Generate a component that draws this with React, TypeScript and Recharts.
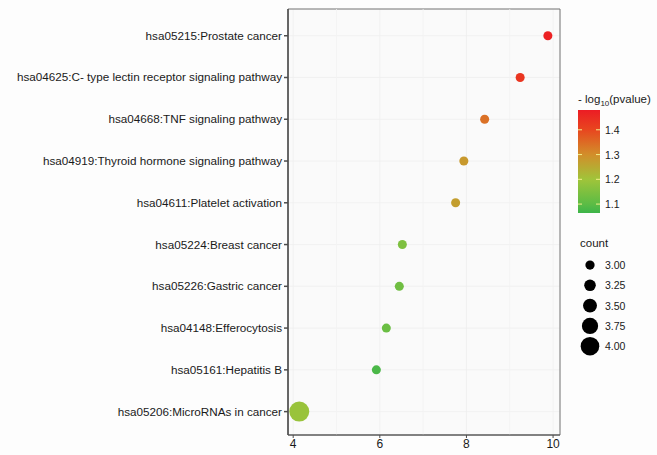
import {
  ScatterChart, Scatter, XAxis, YAxis, ZAxis, CartesianGrid, Cell, ReferenceLine, ReferenceArea,
} from "recharts";

const pathways = [
  "hsa05215:Prostate cancer",
  "hsa04625:C- type lectin receptor signaling pathway",
  "hsa04668:TNF signaling pathway",
  "hsa04919:Thyroid hormone signaling pathway",
  "hsa04611:Platelet activation",
  "hsa05224:Breast cancer",
  "hsa05226:Gastric cancer",
  "hsa04148:Efferocytosis",
  "hsa05161:Hepatitis B",
  "hsa05206:MicroRNAs in cancer",
];
const enrichment = [9.88, 9.24, 8.42, 7.94, 7.75, 6.52, 6.45, 6.15, 5.92, 4.14];
const logP = [1.47, 1.43, 1.34, 1.28, 1.27, 1.15, 1.13, 1.12, 1.08, 1.19];
const counts = [3, 3, 3, 3, 3, 3, 3, 3, 3, 4];

const xTicks = [4, 6, 8, 10];
const xMinor = [5, 7, 9];
const colorTicks = [1.1, 1.2, 1.3, 1.4];
const countTicks = [3.0, 3.25, 3.5, 3.75, 4.0];

const data = pathways.map((name, i) => ({
  name, y: i + 1, x: enrichment[i], p: logP[i], count: counts[i],
}));

const FONT = "'Liberation Sans', Arial, sans-serif";

// low -> green, high -> red
const stops = [
  { v: 1.064, c: [61, 181, 74] },
  { v: 1.1, c: [92, 188, 69] },
  { v: 1.2, c: [160, 196, 58] },
  { v: 1.3, c: [210, 142, 42] },
  { v: 1.4, c: [232, 70, 31] },
  { v: 1.48, c: [236, 28, 36] },
];
function pColor(v: number) {
  if (v <= stops[0].v) return `rgb(${stops[0].c.join(",")})`;
  for (let i = 1; i < stops.length; i++) {
    if (v <= stops[i].v) {
      const a = stops[i - 1], b = stops[i];
      const t = (v - a.v) / (b.v - a.v);
      const c = a.c.map((k, j) => Math.round(k + (b.c[j] - k) * t));
      return `rgb(${c.join(",")})`;
    }
  }
  return `rgb(${stops[stops.length - 1].c.join(",")})`;
}

const cbTop = 110, cbBottom = 213, cbMin = 1.064, cbMax = 1.48;
const cbY = (v: number) => cbBottom - ((v - cbMin) / (cbMax - cbMin)) * (cbBottom - cbTop);
const sizeR = (c: number) => 4.5 + (c - 3) * 5.5;

function YTick(props: any) {
  const { x, y, payload } = props;
  return (
    <text x={x} y={y} dy={4} textAnchor="end" fontSize={11.7} fill="#1a1a1a" fontFamily={FONT}>
      {pathways[payload.value - 1] ?? ""}
    </text>
  );
}

function Legends() {
  return (
    <svg width={657} height={455} style={{ position: "absolute", left: 0, top: 0, pointerEvents: "none" }}
      fontFamily={FONT}>
      <defs>
        <linearGradient id="pg" x1="0" y1="1" x2="0" y2="0">
          {stops.map((s) => (
            <stop key={s.v} offset={(s.v - cbMin) / (cbMax - cbMin)} stopColor={`rgb(${s.c.join(",")})`} />
          ))}
        </linearGradient>
      </defs>
      <text x={578} y={103} fontSize={11.5} fill="#1a1a1a">
        - log<tspan fontSize={8} dy={3}>10</tspan><tspan dy={-3}>(pvalue)</tspan>
      </text>
      <rect x={578} y={cbTop} width={22} height={cbBottom - cbTop} fill="url(#pg)" />
      {colorTicks.map((t) => (
        <g key={t}>
          <line x1={578} x2={582} y1={cbY(t)} y2={cbY(t)} stroke="#f4f08a" />
          <line x1={596} x2={600} y1={cbY(t)} y2={cbY(t)} stroke="#f4f08a" />
          <text x={605} y={cbY(t) + 4} fontSize={10.5} fill="#1a1a1a">{t.toFixed(1)}</text>
        </g>
      ))}
      <text x={580} y={247} fontSize={11.5} fill="#1a1a1a">count</text>
      {countTicks.map((c, i) => (
        <g key={c}>
          <circle cx={590} cy={265 + i * 20.3} r={sizeR(c) * 0.85 + 0.8} fill="#000" />
          <text x={605} y={269 + i * 20.3} fontSize={10.5} fill="#1a1a1a">{c.toFixed(2)}</text>
        </g>
      ))}
    </svg>
  );
}

export default function App() {
  return (
    <div style={{ position: "absolute", left: 0, top: 0, width: 657, height: 455, background: "#fdfdfd" }}>
      <ScatterChart width={657} height={455} margin={{ top: 9, right: 97, left: 0, bottom: 0 }}>
        <CartesianGrid fill="#fafafa" stroke="#efefef" strokeWidth={0.8} />
        {xMinor.map((v) => (
          <ReferenceLine key={v} x={v} stroke="#f3f3f3" strokeWidth={0.8} />
        ))}
        <XAxis
          type="number" dataKey="x" domain={[3.88, 10.16]} ticks={xTicks} allowDataOverflow
          height={20} tickSize={3} tickMargin={1} stroke="#4d4d4d"
          tick={{ fontSize: 12, fill: "#1a1a1a", fontFamily: FONT }}
        />
        <YAxis
          type="number" dataKey="y" domain={[0.36, 10.56]} reversed allowDataOverflow
          ticks={pathways.map((_, i) => i + 1)} interval={0}
          width={288} tickSize={4} tickMargin={2} stroke="#4d4d4d" strokeWidth={1.5}
          tick={<YTick />}
        />
        <ZAxis type="number" dataKey="count" domain={[3, 4]} range={[64, 314]} />
        <ReferenceArea x1={3.88} x2={10.16} y1={0.36} y2={10.56} fill="none" stroke="#777" strokeWidth={1} />
        <Scatter data={data} isAnimationActive={false}>
          {data.map((d) => (
            <Cell key={d.name} fill={pColor(d.p)} />
          ))}
        </Scatter>
      </ScatterChart>
      <Legends />
    </div>
  );
}
